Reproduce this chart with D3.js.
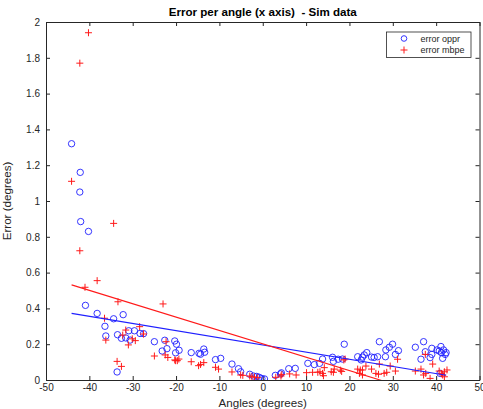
<!DOCTYPE html>
<html>
<head>
<meta charset="utf-8">
<script src="https://cdn.jsdelivr.net/npm/d3@7"></script>
<style>
  body { margin: 0; background: #fff; }
  svg { font-family: "Liberation Sans", Arial, Helvetica, sans-serif; }
</style>
</head>
<body>
<div id="grafica"></div>
<script>
// error oppr (blue circles)
const opprAngles = [-44.1, -42.1, -42.2, -42.0, -40.2, -40.9, -38.2, -36.4, -36.2, -34.4, -32.2, -33.5, -32.6, -31.6,
  -30.9, -30.6, -29.6, -28.3, -27.5, -33.6, -25.0, -23.2, -22.6, -22.1, -20.3, -19.9, -20.1, -19.3, -16.5, -14.7,
  -14.35, -13.6, -13.4, -10.9, -9.7, -7.1, -5.6, -5.1, -3.0, -2.1, -1.4, -0.8, -0.2, 0.4, 2.9, 4.1, 4.3, 6.0, 7.5,
  10.4, 11.9, 13.1, 13.8, 16.1, 16.3, 17.4, 18.4, 18.8, 21.9, 22.7, 23.0, 23.4, 24.0, 25.1, 25.7, 26.5, 26.9, 28.3,
  28.4, 29.2, 29.95, 30.6, 31.3, 35.2, 36.5, 37.1, 37.5, 38.6, 39.0, 39.0, 40.2, 40.7, 41.1, 41.2, 41.5, 41.7, 42.1,
  42.3, 40.9];
const opprErrors = [1.32, 1.16, 1.05, 0.885, 0.83, 0.417, 0.372, 0.30, 0.246, 0.342, 0.365, 0.253, 0.233, 0.235,
  0.275, 0.223, 0.275, 0.26, 0.259, 0.045, 0.214, 0.162, 0.222, 0.175, 0.218, 0.2, 0.152, 0.166, 0.153, 0.149,
  0.144, 0.173, 0.155, 0.114, 0.121, 0.089, 0.063, 0.046, 0.032, 0.022, 0.02, 0.015, 0.008, 0.006, 0.026, 0.034, 0.04,
  0.063, 0.065, 0.093, 0.086, 0.093, 0.117, 0.127, 0.104, 0.116, 0.117, 0.2, 0.13, 0.112, 0.128, 0.14, 0.153, 0.128,
  0.126, 0.13, 0.214, 0.13, 0.168, 0.183, 0.2, 0.143, 0.164, 0.183, 0.116, 0.214, 0.158, 0.125, 0.177, 0.143, 0.168,
  0.162, 0.187, 0.153, 0.121, 0.168, 0.143, 0.153, 0.037];

// error mbpe (red pluses)
const mbpeAngles = [-40.2, -42.2, -44.1, -34.4, -42.2, -38.2, -41.0, -33.4, -36.5, -36.2, -31.6, -32.3, -31.0, -30.1,
  -29.4, -28.4, -27.5, -33.6, -32.6, -23.0, -25.0, -22.3, -22.5, -21.9, -20.1, -19.7, -20.3, -19.35, -16.5, -14.8,
  -14.35, -13.6, -10.9, -10.2, -7.1, -5.1, -4.6, -3.0, -2.5, -1.9, -1.15, 3.0, 4.2, 4.4, 6.2, 7.7, 10.1, 11.5, 12.7,
  13.2, 13.8, 14.0, 14.2, 15.8, 16.3, 16.5, 17.9, 18.2, 18.7, 19.0, 21.9, 22.3, 22.5, 23.0, 23.0, 23.8, 25.1, 26.1,
  26.7, 26.9, 28.0, 28.6, 29.4, 30.6, 31.1, 35.2, 36.5, 37.1, 37.5, 37.6, 38.6, 39.2, 40.7, 41.2, 41.5, 41.9, 41.9, 42.5];
const mbpeErrors = [1.94, 1.77, 1.11, 0.875, 0.722, 0.555, 0.518, 0.437, 0.345, 0.223, 0.279, 0.251, 0.196, 0.23,
  0.22, 0.298, 0.257, 0.104, 0.076, 0.425, 0.134, 0.214, 0.14, 0.126, 0.108, 0.108, 0.112, 0.117, 0.102, 0.08,
  0.087, 0.097, 0.071, 0.061, 0.045, 0.028, 0.026, 0.022, 0.018, 0.016, 0.013, 0.015, 0.022, 0.03, 0.034, 0.028,
  0.041, 0.043, 0.043, 0.046, 0.037, 0.024, 0.069, 0.046, 0.043, 0.061, 0.055, 0.048, 0.112, 0.117, 0.061, 0.037,
  0.056, 0.028, 0.056, 0.078, 0.061, 0.037, 0.032, 0.089, 0.037, 0.043, 0.078, 0.05, 0.116, 0.05, 0.061, 0.028,
  0.143, 0.037, 0.009, 0.089, 0.05, 0.037, 0.028, 0.018, 0.046, 0.056];

// lineas de ajuste [pendiente, ordenada]
const opprFit = [-0.0040, 0.196];
const mbpeFit = [-0.00747, 0.202];

const xTicks = [-50, -40, -30, -20, -10, 0, 10, 20, 30, 40, 50];
const yTicks = [0, 0.2, 0.4, 0.6, 0.8, 1, 1.2, 1.4, 1.6, 1.8, 2];
const seriesNames = ["error oppr", "error mbpe"];

let margin = { top: 22, right: 3.5, bottom: 29, left: 46 };
let width = 483 - margin.left - margin.right;
let height = 409 - margin.top - margin.bottom;
const ink = "#262626";
const blue = "#1f1fff";
const red = "#ff1a1a";

let svg = d3
  .select("#grafica")
  .append("svg")
  .attr("width", 483)
  .attr("height", 409)
  .append("g")
  .attr("transform", "translate(" + margin.left + "," + margin.top + ")");

let x = d3.scaleLinear().domain([-50, 50]).range([0, width]);
let y = d3.scaleLinear().domain([0, 2]).range([height, 0]);

svg.append("defs").append("clipPath").attr("id", "recorte")
  .append("rect").attr("width", width).attr("height", height);

// ejes
function estilo(g) {
  g.selectAll("path").attr("stroke", ink);
  g.selectAll("line").attr("stroke", ink);
  g.selectAll("text").attr("fill", ink).attr("font-size", "10px");
}
svg.append("g").attr("transform", "translate(0," + height + ")")
  .call(d3.axisBottom(x).tickValues(xTicks).tickSize(-4).tickSizeOuter(0).tickPadding(6).tickFormat((d) => String(d)))
  .call(estilo).call((g) => g.selectAll("text").attr("dy", "0.5em"));
svg.append("g")
  .call(d3.axisTop(x).tickValues(xTicks).tickSize(-4).tickSizeOuter(0).tickFormat(""))
  .call(estilo);
svg.append("g")
  .call(d3.axisLeft(y).tickValues(yTicks).tickSize(-4).tickSizeOuter(0).tickPadding(6).tickFormat((d) => String(d)))
  .call(estilo);
svg.append("g").attr("transform", "translate(" + width + ",0)")
  .call(d3.axisRight(y).tickValues(yTicks).tickSize(-4).tickSizeOuter(0).tickFormat(""))
  .call(estilo);
svg.selectAll(".domain").attr("stroke-width", 1);

let area = svg.append("g").attr("clip-path", "url(#recorte)");

// circulos oppr
area.selectAll("circle.oppr")
  .data(opprAngles.map((a, i) => [a, opprErrors[i]]))
  .enter()
  .append("circle")
  .attr("class", "oppr")
  .attr("cx", (d) => x(d[0]))
  .attr("cy", (d) => y(d[1]))
  .attr("r", 3.2)
  .attr("fill", "none")
  .attr("stroke", blue)
  .attr("stroke-width", 0.9);

// cruces mbpe
area.selectAll("path.mbpe")
  .data(mbpeAngles.map((a, i) => [a, mbpeErrors[i]]))
  .enter()
  .append("path")
  .attr("class", "mbpe")
  .attr("transform", (d) => "translate(" + x(d[0]) + "," + y(d[1]) + ")")
  .attr("d", "M-3.5,0H3.5M0,-3.5V3.5")
  .attr("stroke", red)
  .attr("stroke-width", 1);

// rectas
function recta(fit, xs, color) {
  let ext = d3.extent(xs);
  area.append("line")
    .attr("x1", x(ext[0])).attr("y1", y(fit[0] * ext[0] + fit[1]))
    .attr("x2", x(ext[1])).attr("y2", y(fit[0] * ext[1] + fit[1]))
    .attr("stroke", color)
    .attr("stroke-width", 1.1);
}
recta(opprFit, opprAngles, blue);
recta(mbpeFit, mbpeAngles, red);

// titulos
svg.append("text")
  .attr("x", width / 2).attr("y", -6)
  .attr("text-anchor", "middle")
  .attr("font-size", "11.6px").attr("font-weight", "bold").attr("fill", "#000")
  .attr("xml:space", "preserve")
  .text("Error per angle (x axis)  - Sim data");
svg.append("text")
  .attr("x", width / 2).attr("y", height + 27)
  .attr("text-anchor", "middle")
  .attr("font-size", "11.6px").attr("fill", ink)
  .text("Angles (degrees)");
svg.append("text")
  .attr("transform", "translate(" + (-35) + "," + height / 2 + ") rotate(-90)")
  .attr("text-anchor", "middle")
  .attr("font-size", "11.6px").attr("fill", ink)
  .text("Error (degrees)");

// leyenda
let ley = svg.append("g").attr("transform", "translate(" + (386.5 - margin.left) + "," + (32 - margin.top) + ")");
ley.append("rect").attr("width", 84.5).attr("height", 25.5)
  .attr("fill", "#fff").attr("stroke", ink).attr("stroke-width", 0.8);
seriesNames.forEach((n, i) => {
  let cy = 6.5 + i * 11.5;
  if (i === 0) {
    ley.append("circle").attr("cx", 17.5).attr("cy", cy).attr("r", 2.8)
      .attr("fill", "none").attr("stroke", blue).attr("stroke-width", 0.9);
  } else {
    ley.append("path").attr("transform", "translate(17.5," + cy + ")")
      .attr("d", "M-3.5,0H3.5M0,-3.5V3.5").attr("stroke", red);
  }
  ley.append("text").attr("x", 34).attr("y", cy + 3)
    .attr("font-size", "9px").attr("fill", ink).text(n);
});
</script>
</body>
</html>
